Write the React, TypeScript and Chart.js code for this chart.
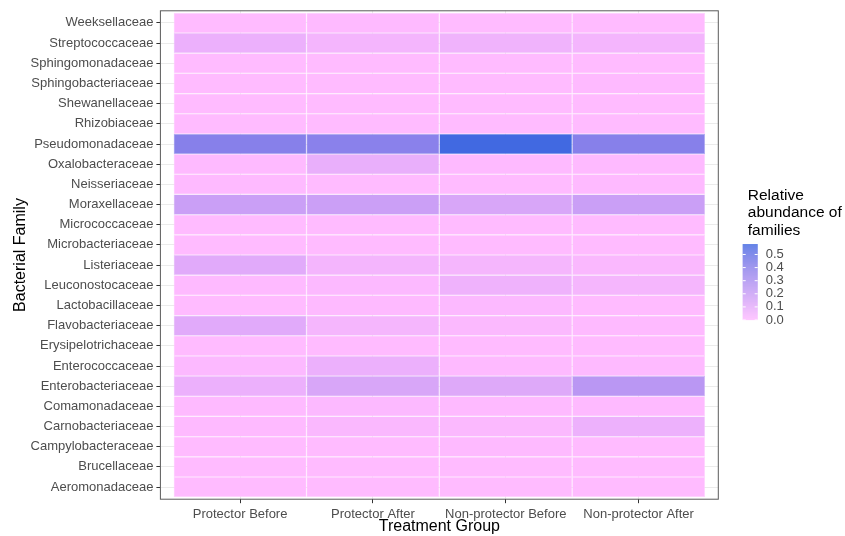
import { useEffect, useRef } from "react";
import { Chart, registerables } from "chart.js";

Chart.register(...registerables);

// Families, bottom (index 0) to top
const families = [
  "Aeromonadaceae", "Brucellaceae", "Campylobacteraceae", "Carnobacteriaceae",
  "Comamonadaceae", "Enterobacteriaceae", "Enterococcaceae", "Erysipelotrichaceae",
  "Flavobacteriaceae", "Lactobacillaceae", "Leuconostocaceae", "Listeriaceae",
  "Microbacteriaceae", "Micrococcaceae", "Moraxellaceae", "Neisseriaceae",
  "Oxalobacteraceae", "Pseudomonadaceae", "Rhizobiaceae", "Shewanellaceae",
  "Sphingobacteriaceae", "Sphingomonadaceae", "Streptococcaceae", "Weeksellaceae",
];

const groups = ["Protector Before", "Protector After", "Non-protector Before", "Non-protector After"];

const protectorBefore = [0, 0, 0, 0.005, 0.005, 0.07, 0.01, 0, 0.11, 0, 0.005, 0.11, 0, 0, 0.19, 0.005, 0.005, 0.41, 0, 0, 0, 0, 0.07, 0];
const protectorAfter = [0, 0, 0, 0.02, 0.01, 0.14, 0.07, 0, 0.035, 0.005, 0.01, 0.04, 0, 0, 0.185, 0, 0.08, 0.40, 0, 0, 0, 0, 0.04, 0.005];
const nonProtectorBefore = [0, 0, 0.005, 0.015, 0.005, 0.12, 0.005, 0, 0.015, 0.01, 0.06, 0.035, 0, 0, 0.14, 0, 0.005, 0.58, 0, 0, 0, 0, 0.055, 0];
const nonProtectorAfter = [0, 0, 0, 0.065, 0.005, 0.245, 0.005, 0, 0.005, 0, 0.035, 0.02, 0, 0, 0.19, 0.005, 0.005, 0.41, 0, 0, 0.005, 0, 0.04, 0];

const legendTicks = [0, 0.1, 0.2, 0.3, 0.4, 0.5];
const legendTitle = ["Relative", "abundance of", "families"];

const LOW: [number, number, number] = [255, 187, 255]; // plum1
const HIGH: [number, number, number] = [65, 105, 225]; // royalblue

// ---- Lab interpolation (like ggplot's gradient) ----
const toLin = (c: number) => {
  const v = c / 255;
  return v <= 0.04045 ? v / 12.92 : Math.pow((v + 0.055) / 1.055, 2.4);
};
const fromLin = (c: number) => {
  const v = c <= 0.0031308 ? 12.92 * c : 1.055 * Math.pow(c, 1 / 2.4) - 0.055;
  return Math.round(Math.max(0, Math.min(1, v)) * 255);
};
const D = 6 / 29;
const f = (t: number) => (t > D * D * D ? Math.cbrt(t) : t / (3 * D * D) + 4 / 29);
const finv = (t: number) => (t > D ? t * t * t : 3 * D * D * (t - 4 / 29));
const Xn = 0.95047, Yn = 1, Zn = 1.08883;
function rgbToLab([r, g, b]: number[]) {
  const R = toLin(r), G = toLin(g), B = toLin(b);
  const X = 0.4124 * R + 0.3576 * G + 0.1805 * B;
  const Y = 0.2126 * R + 0.7152 * G + 0.0722 * B;
  const Z = 0.0193 * R + 0.1192 * G + 0.9505 * B;
  const fx = f(X / Xn), fy = f(Y / Yn), fz = f(Z / Zn);
  return [116 * fy - 16, 500 * (fx - fy), 200 * (fy - fz)];
}
function labToRgb([L, a, b]: number[]) {
  const fy = (L + 16) / 116, fx = fy + a / 500, fz = fy - b / 200;
  const X = Xn * finv(fx), Y = Yn * finv(fy), Z = Zn * finv(fz);
  const R = 3.2406 * X - 1.5372 * Y - 0.4986 * Z;
  const G = -0.9689 * X + 1.8758 * Y + 0.0415 * Z;
  const B = 0.0557 * X - 0.204 * Y + 1.057 * Z;
  return [fromLin(R), fromLin(G), fromLin(B)];
}
const LOW_LAB = rgbToLab(LOW);
const HIGH_LAB = rgbToLab(HIGH);

const allValues = [...protectorBefore, ...protectorAfter, ...nonProtectorBefore, ...nonProtectorAfter];
const VMIN = Math.min(...allValues);
const VMAX = Math.max(...allValues);

function colorFor(v: number, mixWhite = 0) {
  const t = Math.max(0, Math.min(1, (v - VMIN) / (VMAX - VMIN)));
  const lab = LOW_LAB.map((c, i) => c + (HIGH_LAB[i] - c) * t);
  let [r, g, b] = labToRgb(lab);
  r = Math.round(r + (255 - r) * mixWhite);
  g = Math.round(g + (255 - g) * mixWhite);
  b = Math.round(b + (255 - b) * mixWhite);
  return `rgb(${r},${g},${b})`;
}

const FONT = "'Liberation Sans', Arial, Helvetica, sans-serif";

const legendPlugin = {
  id: "heatLegend",
  afterDraw(chart: any) {
    const ctx = chart.ctx as CanvasRenderingContext2D;
    const area = chart.chartArea;
    ctx.save();
    // panel border
    ctx.strokeStyle = "#5a5a5a";
    ctx.lineWidth = 1;
    ctx.strokeRect(area.left, area.top, area.right - area.left, area.bottom - area.top);

    // legend title
    ctx.fillStyle = "#000";
    ctx.font = `15.5px ${FONT}`;
    ctx.textAlign = "left";
    ctx.textBaseline = "middle";
    const tx = area.right + 29.5;
    legendTitle.forEach((line, i) => ctx.fillText(line, tx, 195.5 + i * 17.5));

    // colour bar
    const bx = area.right + 24.4;
    const bw = 15;
    const top = 244;
    const bottom = 320;
    for (let y = top; y < bottom; y += 0.5) {
      const v = VMIN + ((bottom - (y + 0.25)) / (bottom - top)) * (VMAX - VMIN);
      ctx.fillStyle = colorFor(v);
      ctx.fillRect(bx, y, bw, 0.6);
    }
    ctx.strokeStyle = "#ffffff";
    ctx.lineWidth = 1;
    ctx.font = `13px ${FONT}`;
    ctx.fillStyle = "#4d4d4d";
    legendTicks.forEach((v) => {
      const y = bottom - ((v - VMIN) / (VMAX - VMIN)) * (bottom - top);
      ctx.beginPath();
      ctx.moveTo(bx, y);
      ctx.lineTo(bx + 3, y);
      ctx.moveTo(bx + bw - 3, y);
      ctx.lineTo(bx + bw, y);
      ctx.stroke();
      ctx.fillText(v.toFixed(1), bx + bw + 8, y);
    });
    ctx.restore();
  },
};

export default function App() {
  const ref = useRef<HTMLCanvasElement | null>(null);

  useEffect(() => {
    if (!ref.current) return;
    const series = [protectorBefore, protectorAfter, nonProtectorBefore, nonProtectorAfter];
    const datasets = series.map((vals, g) => ({
      label: groups[g],
      data: vals.map((_, r) => ({ x: g, y: [r - 0.5, r + 0.5] })),
      backgroundColor: vals.map((v) => colorFor(v)),
      borderColor: vals.map((v) => colorFor(v, 0.35)),
      borderWidth: 0.6,
      borderSkipped: false,
      inflateAmount: 0,
      barPercentage: 1,
      categoryPercentage: 1,
      grouped: false,
    }));

    const chart = new Chart(ref.current, {
      type: "bar",
      data: { datasets: datasets as any },
      plugins: [legendPlugin],
      options: {
        animation: false,
        responsive: false,
        layout: { padding: { left: 0, top: 8.7, right: 126.7, bottom: 0 } },
        plugins: { legend: { display: false }, tooltip: { enabled: false } },
        scales: {
          x: {
            type: "linear",
            min: -0.6,
            max: 3.6,
            offset: false,
            afterFit: (s: any) => {
              s.height = 36.8;
            },
            grid: { offset: false, color: "#ebebeb", lineWidth: 1, tickColor: "#333333", tickLength: 4, drawTicks: true },
            border: { display: false },
            ticks: {
              stepSize: 1,
              includeBounds: false,
              autoSkip: false,
              maxRotation: 0,
              padding: 3,
              color: "#4d4d4d",
              font: { family: FONT, size: 13 },
              callback: (v: any) => (Number.isInteger(v) ? groups[v] ?? "" : ""),
            },
            title: {
              display: true,
              text: "Treatment Group",
              color: "#000",
              font: { family: FONT, size: 16 },
              padding: { top: 0, bottom: 0 },
            },
          },
          y: {
            type: "linear",
            min: -0.6,
            max: 23.6,
            offset: false,
            afterFit: (s: any) => {
              s.width = 160.4;
            },
            grid: { offset: false, color: "#ebebeb", lineWidth: 1, tickColor: "#333333", tickLength: 4, drawTicks: true },
            border: { display: false },
            ticks: {
              stepSize: 1,
              includeBounds: false,
              autoSkip: false,
              padding: 3,
              color: "#4d4d4d",
              font: { family: FONT, size: 13 },
              callback: (v: any) => (Number.isInteger(v) ? families[v] ?? "" : ""),
            },
            title: {
              display: true,
              text: "Bacterial Family",
              color: "#000",
              font: { family: FONT, size: 16 },
              padding: { top: 10.5, bottom: 0 },
            },
          },
        },
      } as any,
    });
    return () => chart.destroy();
  }, []);

  return (
    <div style={{ position: "fixed", left: 0, top: 0, width: 845, height: 536, background: "#fff" }}>
      <canvas ref={ref} width={845} height={536} style={{ width: 845, height: 536, display: "block" }} />
    </div>
  );
}
